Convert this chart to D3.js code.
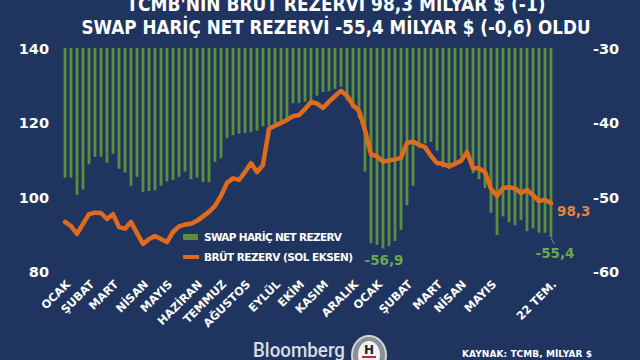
<!DOCTYPE html>
<html><head><meta charset="utf-8">
<script src="https://cdn.jsdelivr.net/npm/d3@7"></script>
<style>
html,body{margin:0;padding:0;background:#1f3560;}
svg{display:block;}
text{font-family:"DejaVu Sans",Verdana,sans-serif;font-weight:bold;}
</style></head>
<body>
<svg id="c" width="640" height="360"></svg>
<script>
const titleLines = ["TCMB'NİN BRÜT REZERVİ 98,3 MİLYAR $ (-1)", "SWAP HARİÇ NET REZERVİ -55,4 MİLYAR $ (-0,6) OLDU"];
const grossReserve = [93.3,92.2,90.1,92.8,95.4,95.8,95.7,94.1,95.4,91.9,
 91.5,93.3,90.3,87.4,88.7,89.5,88.7,87.9,90.6,92.1,
 92.6,92.8,93.6,94.8,96.0,97.6,100.3,103.8,105.0,104.6,
 106.7,109.1,106.7,108.6,118.3,119.1,119.9,120.7,121.7,122.0,
 123.6,125.5,125.1,123.9,125.6,127.1,128.5,127.2,124.7,123.1,
 118.0,111.5,110.9,109.5,109.8,110.1,110.5,114.5,114.9,114.0,
 113.4,111.0,109.1,108.9,108.2,108.9,109.7,112.1,107.7,107.7,
 106.7,102.2,100.3,102.4,102.6,102.3,101.1,101.9,100.5,98.9,
 99.3,98.3];
const netReserveExSwap = [-47.4,-47.4,-49.7,-49.0,-45.6,-44.6,-44.6,-45.4,-44.2,-46.2,
 -46.7,-48.5,-47.3,-49.3,-49.2,-49.1,-48.5,-47.9,-47.7,-47.3,
 -46.6,-47.6,-47.4,-48.0,-48.0,-45.3,-44.8,-42.1,-41.7,-41.5,
 -41.4,-41.3,-41.1,-40.5,-40.5,-40.1,-39.7,-39.4,-37.4,-37.4,
 -37.2,-37.1,-36.4,-35.9,-35.8,-35.5,-35.2,-37.0,-38.1,-39.4,
 -46.6,-56.2,-56.4,-56.9,-56.6,-55.9,-54.4,-51.1,-48.5,-43.4,
 -42.8,-42.6,-43.8,-46.0,-46.2,-45.3,-44.5,-44.0,-46.8,-47.6,
 -48.8,-52.1,-55.1,-52.6,-53.4,-53.8,-53.1,-54.6,-54.2,-54.8,
 -54.8,-55.4];
const monthLabels = ["OCAK","ŞUBAT","MART","NİSAN","MAYIS","HAZİRAN","TEMMUZ","AĞUSTOS","EYLÜL","EKİM","KASIM","ARALIK","OCAK","ŞUBAT","MART","NİSAN","MAYIS","22 TEM."];
const monthIndex = [0,4,8,13,17,22,26,30,35,39,43,48,52,57,62,66,71,81];
const leftTicks = [80,100,120,140];
const rightTicks = [-60,-50,-40,-30];
const legendLabels = ["SWAP HARİÇ NET REZERV","BRÜT REZERV (SOL EKSEN)"];
const minLabel = "-56,9", lastNetLabel = "-55,4", lastGrossLabel = "98,3";

const GREEN = "#5b8e3d", ORANGE = "#e06b1c", WHITE = "#ffffff";
const svg = d3.select("#c");
svg.append("rect").attr("width",640).attr("height",360).attr("fill","#1f3560");

const n = grossReserve.length;
const x = d3.scaleLinear().domain([0, n-1]).range([65, 551]);
const yL = d3.scaleLinear().domain([80,140]).range([271.5,48]);
const yR = d3.scaleLinear().domain([-60,-30]).range([271.5,48]);
const bw = 2.8;

// title
svg.selectAll("text.title").data(titleLines).join("text")
 .attr("class","title").attr("x",336).attr("y",(d,i)=>11+i*23)
 .attr("text-anchor","middle").attr("fill",WHITE).attr("font-size",19)
 .attr("textLength",(d,i)=>i===0?419:509).attr("lengthAdjust","spacingAndGlyphs")
 .text(d=>d);

// bars hanging from -30
svg.append("g").selectAll("rect").data(netReserveExSwap).join("rect")
 .attr("x",(d,i)=>x(i)-bw/2).attr("width",bw)
 .attr("y",yR(-30)).attr("height",d=>yR(d)-yR(-30))
 .attr("fill",GREEN);

// line
const line = d3.line().x((d,i)=>x(i)).y(d=>yL(d)).curve(d3.curveLinear);
svg.append("path").datum(grossReserve).attr("d",line)
 .attr("fill","none").attr("stroke",ORANGE).attr("stroke-width",4.5)
 .attr("stroke-linejoin","round").attr("stroke-linecap","round");

// axes
const axL = d3.axisLeft(yL).tickValues(leftTicks).tickSize(0).tickPadding(0);
const gL = svg.append("g").attr("transform","translate(49,0)").call(axL);
gL.select(".domain").remove();
gL.selectAll("text").attr("fill",WHITE).attr("font-size",14.5).attr("dy","0.36em");

const axR = d3.axisRight(yR).tickValues(rightTicks).tickSize(0).tickPadding(0).tickFormat(d=>String(d));
const gR = svg.append("g").attr("transform","translate(593,0)").call(axR);
gR.select(".domain").remove();
gR.selectAll("text").attr("fill",WHITE).attr("font-size",14.5).attr("dy","0.36em");

// x labels rotated
svg.append("g").selectAll("text").data(monthLabels).join("text")
 .attr("transform",(d,i)=>`translate(${x(monthIndex[i])+6},${285}) rotate(-45)`)
 .attr("text-anchor","end").attr("fill",WHITE).attr("font-size",11.3).text(d=>d);

// legend
const lg = svg.append("g");
lg.append("rect").attr("x",183).attr("y",234).attr("width",15).attr("height",6).attr("fill",GREEN);
lg.append("line").attr("x1",183).attr("x2",199).attr("y1",257).attr("y2",257).attr("stroke",ORANGE).attr("stroke-width",4);
lg.selectAll("text").data(legendLabels).join("text")
 .attr("x",204).attr("y",(d,i)=>240.5+i*20).attr("fill",WHITE).attr("font-size",10.5)
 .attr("textLength",(d,i)=>i===0?138:149).attr("lengthAdjust","spacing").text(d=>d);

// value labels
const minI = netReserveExSwap.indexOf(d3.min(netReserveExSwap));
svg.append("text").attr("x",x(minI)+1).attr("y",yR(netReserveExSwap[minI])+17)
 .attr("text-anchor","middle").attr("fill","#6aa84f").attr("font-size",13.5).text(minLabel);
svg.append("line").attr("x1",x(n-1)).attr("y1",yR(netReserveExSwap[n-1])+1)
 .attr("x2",x(n-1)+3.5).attr("y2",yR(netReserveExSwap[n-1])+7).attr("stroke","#9aa8b8").attr("stroke-width",0.8);
svg.append("text").attr("x",x(n-1)+4).attr("y",yR(netReserveExSwap[n-1])+21)
 .attr("text-anchor","middle").attr("fill","#6aa84f").attr("font-size",13.5).text(lastNetLabel);
svg.append("text").attr("x",x(n-1)+6).attr("y",yL(grossReserve[n-1])+13)
 .attr("text-anchor","start").attr("fill","#e8823a").attr("font-size",13.5).text(lastGrossLabel);

// footer
svg.append("text").attr("x",253).attr("y",357).attr("fill","#d8dce4")
 .style("font-family","Roboto, 'Liberation Sans', sans-serif").style("font-weight","500")
 .attr("font-size",20).attr("textLength",92).attr("lengthAdjust","spacingAndGlyphs").text("Bloomberg");
const logo = svg.append("g").attr("transform","translate(369,355)");
logo.append("ellipse").attr("rx",17).attr("ry",19).attr("fill","#8a8f98").attr("stroke","#d0d3d8").attr("stroke-width",2);
logo.append("ellipse").attr("rx",11).attr("ry",14).attr("fill","#f2f2f2");
logo.append("text").attr("y",-1).attr("text-anchor","middle").attr("fill","#222").attr("font-size",12).text("H");
logo.append("rect").attr("x",-7).attr("y",1).attr("width",14).attr("height",2).attr("fill","#c0282d");
svg.append("text").attr("x",462).attr("y",357).attr("fill",WHITE).attr("font-size",9)
 .attr("textLength",130).text("KAYNAK: TCMB, MİLYAR $");
</script>
</body></html>
